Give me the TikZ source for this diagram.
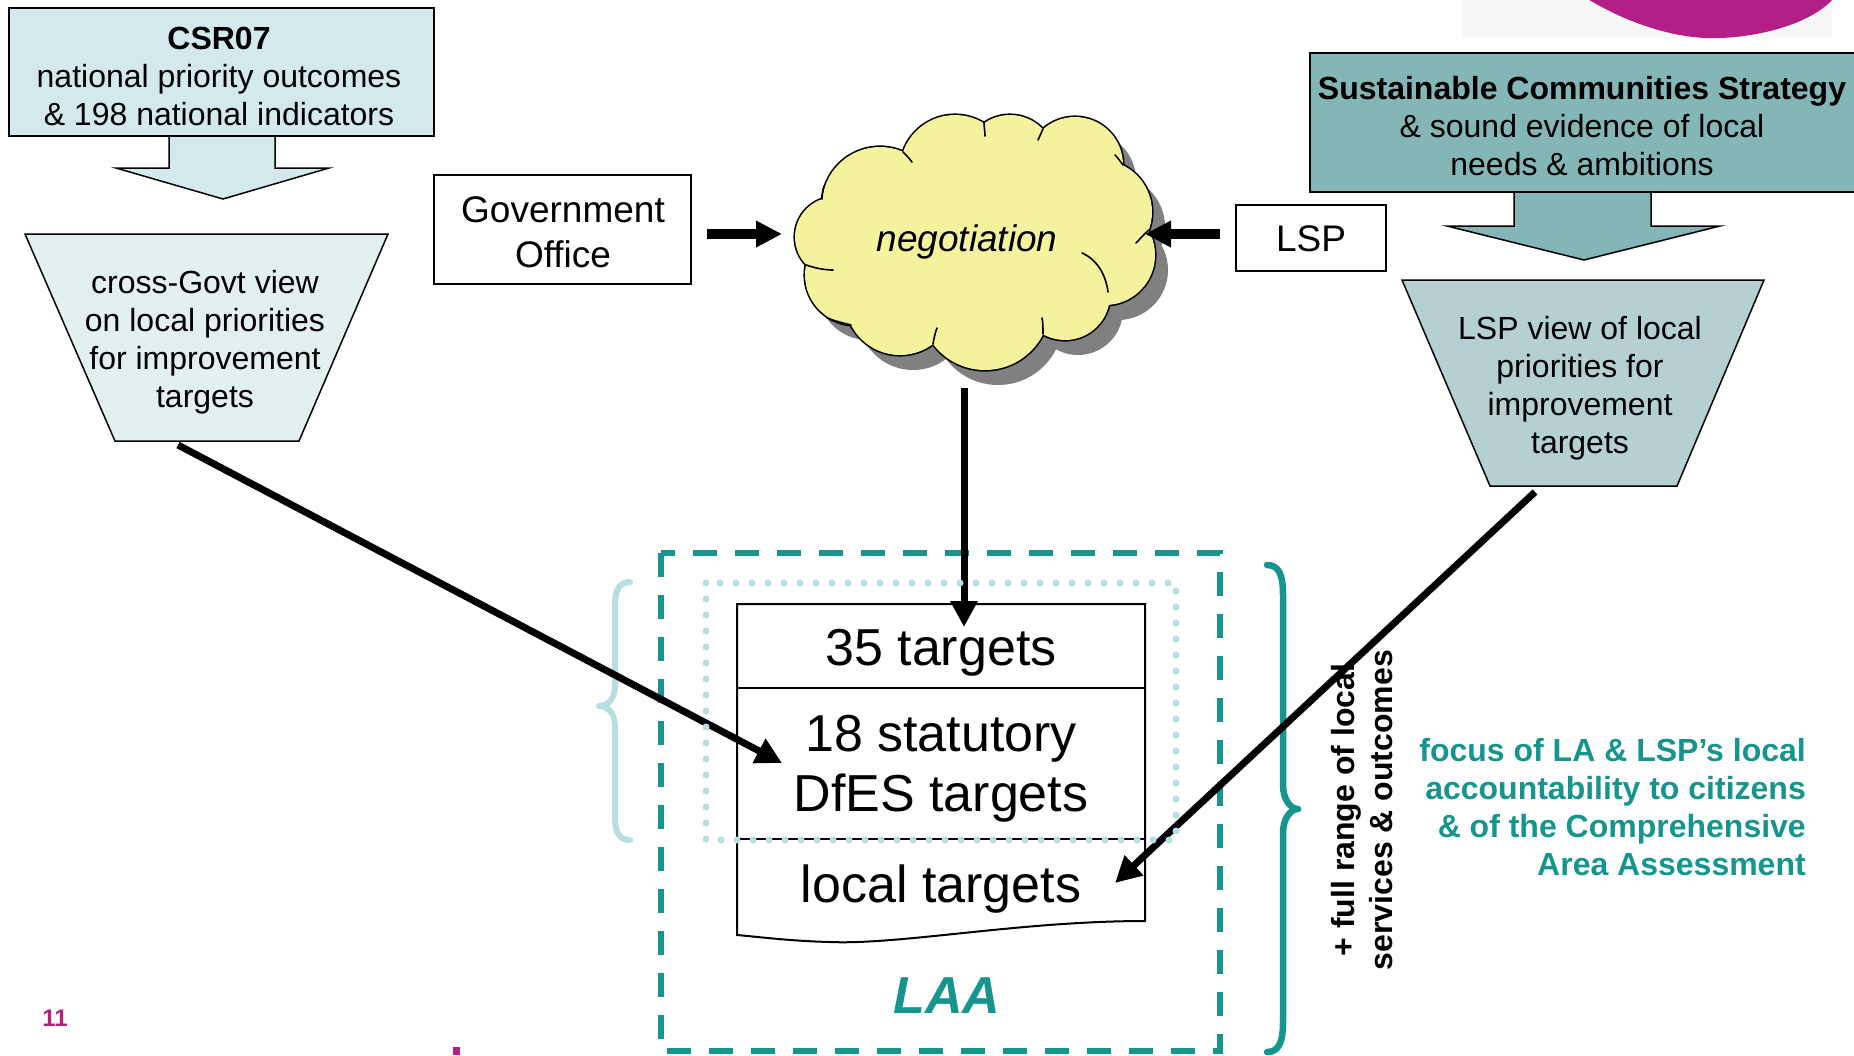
\documentclass[tikz,border=0pt]{standalone}
\usepackage{fontspec}
\setmainfont{Liberation Sans}
\usetikzlibrary{arrows.meta}
\definecolor{csrfill}{HTML}{D4E9EC}
\definecolor{cgfill}{HTML}{E3F0F0}
\definecolor{scsfill}{HTML}{84B6B8}
\definecolor{lspfill}{HTML}{B4D0D1}
\definecolor{cloudfill}{HTML}{F5F29E}
\definecolor{shadowgray}{HTML}{808080}
\definecolor{tealx}{HTML}{16958F}
\definecolor{lbluex}{HTML}{B8DEE1}
\definecolor{magx}{HTML}{B3207F}
\definecolor{blobx}{HTML}{B31E88}
\begin{document}
\begin{tikzpicture}[x=1pt,y=-1pt,
  txt/.style={font=\fontsize{32pt}{38pt}\selectfont, align=center, inner sep=0pt},
  txtb/.style={font=\fontsize{37pt}{45pt}\selectfont, align=center, inner sep=0pt},
  txtbig/.style={font=\fontsize{52pt}{60pt}\selectfont, align=center, inner sep=0pt},
  boxline/.style={draw=black, line width=1.8pt},
  bracestyle/.style={line join=round, line cap=round},
  puff/.style={line width=1.6pt, line cap=round},
  longarrow/.style={line width=7pt, -{Triangle[length=26pt,width=26pt]}},
  shortarrow/.style={line width=10pt, -{Triangle[length=26pt,width=25pt]}}]
\useasboundingbox (0,0) rectangle (1854,1055);
\fill[white] (0,0) rectangle (1854,1055);

% top-right decoration
\fill[black!3] (1462,0) rectangle (1832,38);
\fill[blobx] (1586,-2) .. controls (1630,25) and (1680,40) .. (1720,38) .. controls (1770,36) and (1815,20) .. (1834,-2) -- cycle;

% CSR07 block arrow and box
\draw[boxline, line width=1.5pt, fill=csrfill] (169,130) -- (169,168) -- (116,168) -- (223,199) -- (329,168) -- (275,168) -- (275,130);
\node[boxline, fill=csrfill, minimum width=425pt, minimum height=128pt, inner sep=0pt] (csr) at (221.5,72) {};
\node[txt] (csrtxt) at (219,76) {\textbf{CSR07}\\national priority outcomes\\\& 198 national indicators};

% cross-Govt trapezoid
\draw[boxline, line width=1.5pt, fill=cgfill] (25,234) -- (388,234) -- (299,441) -- (115,441) -- cycle;
\node[txt] (cgtxt) at (205,342) {cross-Govt view\\on local priorities\\for improvement\\targets};

% Government Office
\node[boxline, fill=white, minimum width=257pt, minimum height=109pt, inner sep=0pt] (go) at (562.5,229.5) {};
\node[txtb] (gotxt) at (563,232) {Government\\Office};

% LSP box
\node[boxline, fill=white, minimum width=150pt, minimum height=66pt, inner sep=0pt] (lsp) at (1311,238) {};
\node[txtb] (lsptxt) at (1311,239) {LSP};

% SCS block arrow and box
\draw[boxline, line width=1.5pt, fill=scsfill] (1514,186) -- (1514,226) -- (1447,226) -- (1584,260) -- (1720,226) -- (1651,226) -- (1651,186);
\node[boxline, fill=scsfill, minimum width=560pt, minimum height=139pt, inner sep=0pt] (scs) at (1590,122.5) {};
\node[txt] (scstxt) at (1582,126) {\textbf{Sustainable Communities Strategy}\\\& sound evidence of local\\needs \& ambitions};

% LSP trapezoid
\draw[boxline, line width=1.5pt, fill=lspfill] (1402,280) -- (1764,280) -- (1677,486) -- (1490,486) -- cycle;
\node[txt] (lsptrap) at (1580,388) {LSP view of local\\priorities for\\improvement\\targets};

% cloud
\foreach \cx/\cy/\r in {835/237/40, 880/205/58, 955/170/55, 1010/160/45, 1075/165/48, 1100/212/52, 1105/255/50, 1065/295/45, 985/305/65, 900/300/55, 855/275/50, 975/235/95}
  \fill[shadowgray] (\cx+13,\cy+15) circle[radius=\r pt];
\foreach \cx/\cy/\r in {835/237/40, 880/205/58, 955/170/55, 1010/160/45, 1075/165/48, 1100/212/52, 1105/255/50, 1065/295/45, 985/305/65, 900/300/55, 855/275/50, 975/235/95}
  \fill[black] (\cx,\cy) circle[radius=\r pt+1.6pt];
\foreach \cx/\cy/\r in {835/237/40, 880/205/58, 955/170/55, 1010/160/45, 1075/165/48, 1100/212/52, 1105/255/50, 1065/295/45, 985/305/65, 900/300/55, 855/275/50, 975/235/95}
  \fill[cloudfill] (\cx,\cy) circle[radius=\r pt];
% inner puff ticks at the cusps
\draw[puff] (1082,253) .. controls (1098,260) and (1106,276) .. (1108,292);
\draw[puff] (806,265) .. controls (815,268) and (824,270) .. (833,270);
\draw[puff] (851,325) .. controls (843,323) and (835,321) .. (827,318);
\draw[puff] (1149,230) .. controls (1144,234) and (1140,239) .. (1136,243);
\draw[puff] (933,344) .. controls (934,338) and (935,333) .. (937,328);
\draw[puff] (1043,334) .. controls (1043,328) and (1043,323) .. (1042,318);
\draw[puff] (903,152) .. controls (906,155) and (909,158) .. (912,162);
\draw[puff] (984,123) .. controls (984,127) and (985,131) .. (985,136);
\draw[puff] (1043,129) .. controls (1041,133) and (1040,136) .. (1038,140);
\draw[puff] (1123,165) .. controls (1120,161) and (1118,158) .. (1115,155);
\draw[puff] (822,199) .. controls (822,195) and (823,190) .. (824,186);
\node[txtb, font=\fontsize{37pt}{45pt}\selectfont\itshape] (cloud) at (967,242) {negotiation};

% LAA dashed frame
\draw[tealx, line width=6pt, dash pattern=on 24pt off 18pt] (661,553) rectangle (1220,1051);

% braces
\draw[lbluex, line width=6pt, bracestyle] (630,582) .. controls (618,582) and (615,592) .. (615,605) -- (615,685) .. controls (615,700) and (607,706) .. (599,706) .. controls (607,706) and (615,712) .. (615,727) -- (615,817) .. controls (615,830) and (618,840) .. (630,840);
\draw[tealx, line width=6.5pt, bracestyle] (1267,565) .. controls (1279,565) and (1283,575) .. (1283,595) -- (1283,785) .. controls (1283,800) and (1291,809) .. (1298,809) .. controls (1291,809) and (1283,818) .. (1283,833) -- (1283,1022) .. controls (1283,1042) and (1279,1052) .. (1267,1052);

% targets document
\draw[line width=2pt, fill=white] (737,604) -- (1145,604) -- (1145,921) .. controls (1020,921) and (900,945) .. (830,942) .. controls (790,941) and (760,937) .. (737,935) -- cycle;
\draw[line width=2pt] (737,688) -- (1145,688);
\draw[line width=2pt] (737,839) -- (1145,839);
\node[txtbig] (t35) at (941,653) {35 targets};
\node[txtbig] (t18) at (941,769) {18 statutory\\DfES targets};
\node[txtbig] (tloc) at (941,889) {local targets};
\node[txtbig, font=\fontsize{52pt}{60pt}\selectfont\bfseries\itshape, text=tealx] (laa) at (947,996) {LAA};

% side texts
\node[txt, font=\fontsize{32pt}{38pt}\selectfont\bfseries, rotate=90] (range) at (1362,810) {+ full range of local\\services \& outcomes};
\node[txt, font=\fontsize{32pt}{38pt}\selectfont\bfseries, text=tealx, align=right, anchor=east] (focus) at (1806,807) {focus of LA \& LSP’s local\\accountability to citizens\\\& of the Comprehensive\\Area Assessment};
\node[font=\fontsize{24pt}{28pt}\selectfont\bfseries, text=magx, inner sep=0pt] (pageno) at (55,1018) {11};
\fill[magx] (453,1047) rectangle (460,1055);

% connectors
\coordinate (cgout) at (178,445);
\coordinate (statin) at (782,763);
\coordinate (lspout) at (1535,492);
\coordinate (locin) at (1115,883);
\coordinate (cloudout) at (964,388);
\coordinate (t35in) at (964,627);
\coordinate (goout) at (707,234);
\coordinate (cloudinl) at (782,234);
\coordinate (lspboxout) at (1220,234);
\coordinate (cloudinr) at (1145,234);
\draw[longarrow] (cgout) -- (statin);
\draw[longarrow] (lspout) -- (locin);
\draw[longarrow] (cloudout) -- (t35in);
\draw[shortarrow] (goout) -- (cloudinl);
\draw[shortarrow] (lspboxout) -- (cloudinr);

% dotted frame on top
\draw[lbluex, line width=7pt, line cap=round, dash pattern=on 0pt off 16pt] (706,583) rectangle (1176,840);
\end{tikzpicture}
\end{document}
